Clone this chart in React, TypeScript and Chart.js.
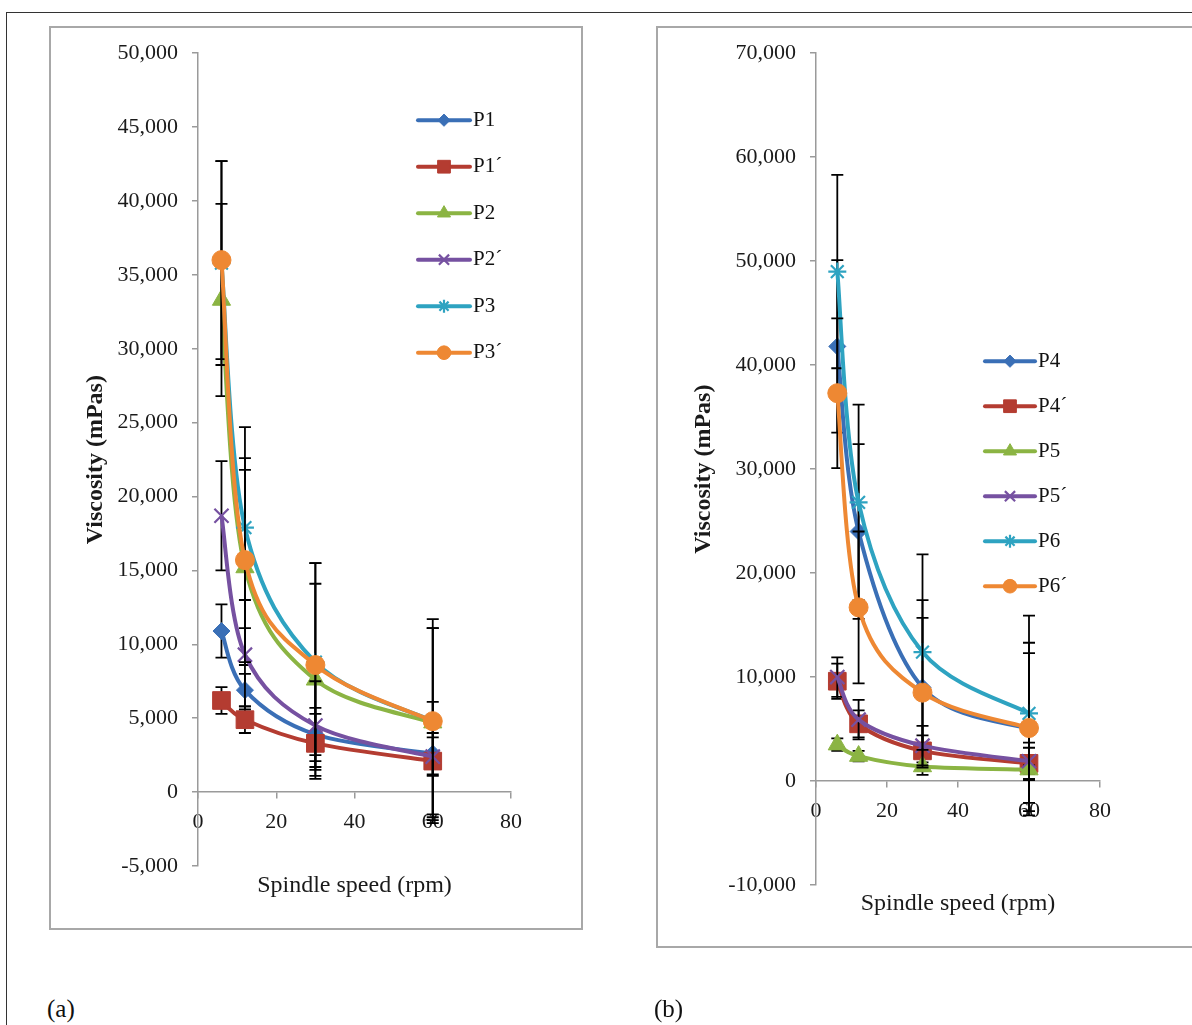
import React, { useEffect, useRef } from "react";
import { Chart, registerables } from "chart.js";
import { drawPoint } from "chart.js/helpers";

Chart.register(...registerables);

// ---------- data ----------
const speeds = [6, 12, 30, 60];
const xTicks = [0, 20, 40, 60, 80];

// panel (a)
const labelsA = ["P1", "P1´", "P2", "P2´", "P3", "P3´"];
const p1 = [10900, 6900, 3900, 2600];
const p1Sd = [1800, 1100, 1400, 1400];
const p1b = [6200, 4900, 3300, 2100];
const p1bSd = [900, 900, 2400, 4000];
const p2 = [33300, 15200, 7600, 4700];
const p2Sd = [6500, 6600, 6500, 6400];
const p2b = [18700, 9300, 4500, 2400];
const p2bSd = [3700, 3700, 3000, 1300];
const p3 = [35800, 17900, 8800, 4800];
const p3Sd = [6900, 6800, 6700, 6300];
const p3b = [36000, 15700, 8600, 4800];
const p3bSd = [6700, 6900, 6900, 6900];
const yRangeA = [-5000, 50000, 5000];

// panel (b)
const labelsB = ["P4", "P4´", "P5", "P5´", "P6", "P6´"];
const p4 = [41800, 24000, 9000, 5000];
const p4Sd = [8300, 8400, 8400, 8300];
const p4b = [9600, 5500, 2900, 1700];
const p4bSd = [1700, 1300, 1500, 1500];
const p5 = [3500, 2400, 1400, 1100];
const p5Sd = [600, 500, 400, 400];
const p5b = [10000, 5900, 3400, 1900];
const p5bSd = [1900, 1900, 1900, 1800];
const p6 = [49000, 26800, 12400, 6500];
const p6Sd = [9300, 9400, 9400, 9400];
const p6b = [37300, 16700, 8500, 5100];
const p6bSd = [7200, 7300, 7200, 7200];
const yRangeB = [-10000, 70000, 10000];

const xTitle = "Spindle speed (rpm)";
const yTitle = "Viscosity (mPas)";

// ---------- styles ----------
const colors = ["#3A6FB6", "#B43C31", "#8BB443", "#7651A1", "#2EA3C1", "#EE8833"];
const pointStyles = ["rectRot", "rect", "triangle", "crossRot", "star", "circle"];
const pointRadii = [8.5, 12.5, 10.5, 10, 9, 9.5];
const pointBorders = [1, 1, 1, 2.2, 2.2, 1];

const FONT = '"Liberation Serif", "Times New Roman", serif';

// Excel-like smoothing: Bezier control points at P_i ± (P_{i+1} - P_{i-1}) / 6,
// computed from the pixel positions the library placed the points at.
const smoothPlugin = {
  id: "excelSmooth",
  beforeDatasetDraw(chart: any, args: any) {
    const meta = args.meta;
    const pts = meta.data;
    const n = pts.length;
    for (let i = 0; i < n; i++) {
      const prev = pts[Math.max(i - 1, 0)];
      const next = pts[Math.min(i + 1, n - 1)];
      const dx = (next.x - prev.x) / 6;
      const dy = (next.y - prev.y) / 6;
      pts[i].cp1x = pts[i].x - dx;
      pts[i].cp1y = pts[i].y - dy;
      pts[i].cp2x = pts[i].x + dx;
      pts[i].cp2y = pts[i].y + dy;
    }
    if (meta.dataset) meta.dataset._pointsUpdated = true;
  },
};

const errorBarPlugin = {
  id: "errorBars",
  beforeDatasetDraw(chart: any, args: any) {
    const ds = chart.data.datasets[args.index];
    const sd: number[] = ds.sd;
    if (!sd) return;
    const ys = chart.scales.y;
    const ctx = chart.ctx;
    ctx.save();
    ctx.strokeStyle = "#000";
    ctx.lineWidth = 1.8;
    args.meta.data.forEach((pt: any, j: number) => {
      const v = ds.data[j].y;
      const hi = ys.getPixelForValue(v + sd[j]);
      const lo = ys.getPixelForValue(v - sd[j]);
      ctx.beginPath();
      ctx.moveTo(pt.x, hi);
      ctx.lineTo(pt.x, lo);
      ctx.moveTo(pt.x - 6, hi);
      ctx.lineTo(pt.x + 6, hi);
      ctx.moveTo(pt.x - 6, lo);
      ctx.lineTo(pt.x + 6, lo);
      ctx.stroke();
    });
    ctx.restore();
  },
};

function makeLegendPlugin(pos: { x: number; y: number; dy: number; len: number }) {
  return {
    id: "seriesLegend",
    afterDraw(chart: any) {
      const ctx = chart.ctx;
      const { left, top } = chart.chartArea;
      chart.data.datasets.forEach((ds: any, i: number) => {
        const y = top + pos.y + i * pos.dy;
        const x0 = left + pos.x;
        ctx.save();
        ctx.strokeStyle = ds.borderColor;
        ctx.lineWidth = 4;
        ctx.lineCap = "round";
        ctx.beginPath();
        ctx.moveTo(x0, y);
        ctx.lineTo(x0 + pos.len, y);
        ctx.stroke();
        ctx.fillStyle = ds.pointBackgroundColor;
        ctx.strokeStyle = ds.pointBorderColor;
        ctx.lineWidth = ds.pointBorderWidth;
        ctx.lineCap = "butt";
        drawPoint(
          ctx,
          {
            pointStyle: ds.pointStyle,
            rotation: 0,
            radius: ds.pointRadius * 0.72,
            borderWidth: ds.pointBorderWidth,
          } as any,
          x0 + pos.len / 2,
          y
        );
        ctx.fillStyle = "#111";
        ctx.font = `21px ${FONT}`;
        ctx.textBaseline = "middle";
        ctx.textAlign = "left";
        ctx.fillText(ds.label, x0 + pos.len + 3, y);
        ctx.restore();
      });
    },
  };
}

type PanelCfg = {
  labels: string[];
  values: number[][];
  sds: number[][];
  yRange: number[];
  yAxisWidth: number;
  xAxisHeight: number;
  pad: { top: number; right: number; bottom: number; left: number };
  yTitlePad: number;
  legend: { x: number; y: number; dy: number; len: number };
};

function buildConfig(p: PanelCfg): any {
  const n = p.labels.length;
  const datasets = p.labels.map((label, i) => ({
    label,
    data: speeds.map((s, j) => ({ x: s, y: p.values[i][j] })),
    sd: p.sds[i],
    borderColor: colors[i],
    backgroundColor: colors[i],
    pointBackgroundColor: colors[i],
    pointBorderColor: colors[i],
    pointStyle: pointStyles[i],
    pointRadius: pointRadii[i],
    pointBorderWidth: pointBorders[i],
    borderWidth: 4,
    tension: 0.4,
    fill: false,
    order: n - 1 - i,
  }));
  const axisColor = "#9a9a9a";
  return {
    type: "line",
    data: { datasets },
    plugins: [smoothPlugin, errorBarPlugin, makeLegendPlugin(p.legend)],
    options: {
      animation: false,
      responsive: false,
      maintainAspectRatio: false,
      layout: { padding: p.pad },
      plugins: { legend: { display: false }, tooltip: { enabled: false } },
      scales: {
        x: {
          type: "linear",
          position: { y: 0 },
          min: xTicks[0],
          max: xTicks[xTicks.length - 1],
          afterBuildTicks: (scale: any) => {
            scale.ticks = xTicks.map((v) => ({ value: v }));
          },
          afterFit: (scale: any) => {
            scale.height = p.xAxisHeight;
          },
          grid: { drawOnChartArea: false, drawTicks: true, tickLength: 6, color: axisColor, lineWidth: 1.5 },
          border: { display: true, color: axisColor, width: 1.5 },
          ticks: { font: { family: FONT, size: 22 }, color: "#1a1a1a", padding: 11, maxRotation: 0 },
          title: {
            display: true,
            text: xTitle,
            font: { family: FONT, size: 24 },
            color: "#1a1a1a",
            padding: 0,
          },
        },
        y: {
          type: "linear",
          position: "left",
          min: p.yRange[0],
          max: p.yRange[1],
          ticks: {
            stepSize: p.yRange[2],
            font: { family: FONT, size: 22 },
            color: "#1a1a1a",
            padding: 14,
          },
          afterFit: (scale: any) => {
            scale.width = p.yAxisWidth;
          },
          grid: { drawOnChartArea: false, drawTicks: true, tickLength: 6, color: axisColor, lineWidth: 1.5 },
          border: { display: true, color: axisColor, width: 1.5 },
          title: {
            display: true,
            text: yTitle,
            font: { family: FONT, size: 24, weight: "bold" },
            color: "#1a1a1a",
            padding: { top: p.yTitlePad, bottom: 0 },
          },
        },
      },
    },
  };
}

function ChartPanel({ cfg, left, top, width, height }: { cfg: PanelCfg; left: number; top: number; width: number; height: number }) {
  const ref = useRef<HTMLCanvasElement | null>(null);
  useEffect(() => {
    if (!ref.current) return;
    const chart = new Chart(ref.current, buildConfig(cfg));
    return () => chart.destroy();
  }, []);
  return (
    <canvas
      ref={ref}
      width={width}
      height={height}
      style={{ position: "absolute", left, top, width, height }}
    />
  );
}

const cfgA: PanelCfg = {
  labels: labelsA,
  values: [p1, p1b, p2, p2b, p3, p3b],
  sds: [p1Sd, p1bSd, p2Sd, p2bSd, p3Sd, p3bSd],
  yRange: yRangeA,
  yAxisWidth: 149,
  xAxisHeight: 108.4,
  pad: { top: 27, right: 72, bottom: 120, left: 0 },
  yTitlePad: 32.6,
  legend: { x: 220, y: 67, dy: 46.5, len: 52 },
};

const cfgB: PanelCfg = {
  labels: labelsB,
  values: [p4, p4b, p5, p5b, p6, p6b],
  sds: [p4Sd, p4bSd, p5Sd, p5bSd, p6Sd, p6bSd],
  yRange: yRangeB,
  yAxisWidth: 160,
  xAxisHeight: 137.4,
  pad: { top: 27, right: 92, bottom: 141, left: 0 },
  yTitlePad: 33.6,
  legend: { x: 169, y: 308, dy: 45, len: 50 },
};

export default function App() {
  const frame = "2px solid #a8a8a8";
  return (
    <div
      style={{
        position: "absolute",
        left: 0,
        top: 0,
        width: 1192,
        height: 1025,
        overflow: "hidden",
        background: "#fff",
        fontFamily: FONT,
      }}
    >
      <div
        style={{
          position: "absolute",
          left: 6,
          top: 12,
          width: 1300,
          height: 1100,
          borderLeft: "1.5px solid #333",
          borderTop: "1.5px solid #333",
        }}
      />
      <div
        style={{
          position: "absolute",
          left: 49,
          top: 26,
          width: 534,
          height: 904,
          border: frame,
          boxSizing: "border-box",
        }}
      />
      <div
        style={{
          position: "absolute",
          left: 656,
          top: 26,
          width: 600,
          height: 922,
          border: frame,
          boxSizing: "border-box",
        }}
      />
      <ChartPanel cfg={cfgA} left={49} top={26} width={534} height={960} />
      <ChartPanel cfg={cfgB} left={656} top={26} width={536} height={1000} />
      <div style={{ position: "absolute", left: 47, top: 995, fontSize: 25, lineHeight: "28px", color: "#111" }}>(a)</div>
      <div style={{ position: "absolute", left: 654, top: 995, fontSize: 25, lineHeight: "28px", color: "#111" }}>(b)</div>
    </div>
  );
}
